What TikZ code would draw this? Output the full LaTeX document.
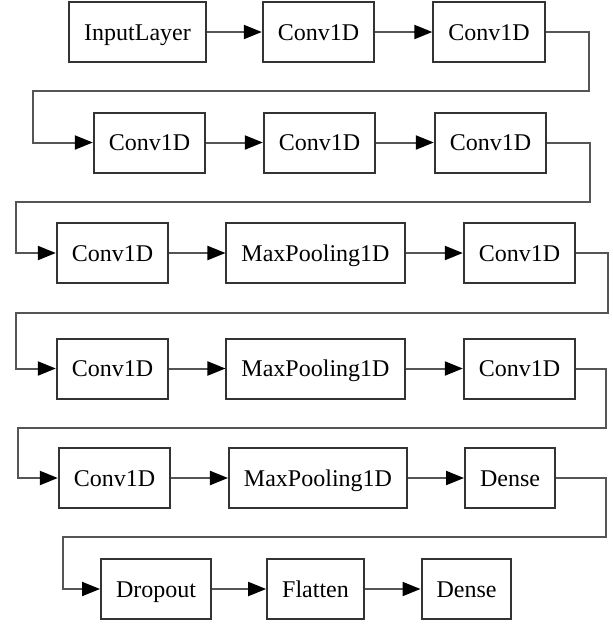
\documentclass[tikz,border=0pt]{standalone}
\usepackage{fontspec}
\setmainfont{Liberation Serif}
\usetikzlibrary{arrows.meta,positioning}
\definecolor{edgegray}{HTML}{555555}
\definecolor{boxgray}{HTML}{333333}

\begin{document}
\begin{tikzpicture}[
  x = 1pt, y = -1pt,
  every node/.style = {font=\fontsize{24}{28}\selectfont},
  layer/.style = {rectangle, draw=boxgray, line width=2pt,
                  inner xsep=15pt, inner ysep=0pt, minimum height=60pt,
                  text height=18pt, text depth=2pt},
  arr/.style   = {draw=edgegray, line width=2pt,
                  -{Triangle[length=18pt,width=14pt,black]}},
]
\useasboundingbox (0,0) rectangle (613,624);

% ── Row 1 ────────────────────────────────────────────────────
\node[layer] (inp)   at (137.5, 32)  {InputLayer};
\node[layer] (conv1) at (318.5, 32)  {Conv1D};
\node[layer] (conv2) at (489,   32)  {Conv1D};

% ── Row 2 ────────────────────────────────────────────────────
\node[layer] (conv3) at (149.5, 142.5) {Conv1D};
\node[layer] (conv4) at (319.5, 142.5) {Conv1D};
\node[layer] (conv5) at (490.5, 142.5) {Conv1D};

% ── Row 3 ────────────────────────────────────────────────────
\node[layer] (conv6) at (112.5, 253) {Conv1D};
\node[layer] (pool1) at (315.5, 253) {MaxPooling1D};
\node[layer] (conv7) at (519.5, 253) {Conv1D};

% ── Row 4 ────────────────────────────────────────────────────
\node[layer] (conv8) at (112.5, 368.5) {Conv1D};
\node[layer] (pool2) at (315.5, 368.5) {MaxPooling1D};
\node[layer] (conv9) at (519.5, 368.5) {Conv1D};

% ── Row 5 ────────────────────────────────────────────────────
\node[layer] (conv10) at (114.5, 478) {Conv1D};
\node[layer] (pool3)  at (318,   478) {MaxPooling1D};
\node[layer] (dense1) at (510,   478) {Dense};

% ── Row 6 ────────────────────────────────────────────────────
\node[layer] (drop)   at (156,   589) {Dropout};
\node[layer] (flat)   at (315.5, 589) {Flatten};
\node[layer] (dense2) at (466.5, 589) {Dense};

% ── Turn points between rows ─────────────────────────────────
\coordinate (turnR1) at (589, 91);   \coordinate (turnL1) at (33, 91);
\coordinate (turnR2) at (590, 202);  \coordinate (turnL2) at (16, 202);
\coordinate (turnR3) at (608, 313);  \coordinate (turnL3) at (16, 313);
\coordinate (turnR4) at (606, 428);  \coordinate (turnL4) at (18, 428);
\coordinate (turnR5) at (606, 537);  \coordinate (turnL5) at (63, 537);

% ── Arrows within rows ───────────────────────────────────────
\draw[arr] (inp)    -- (conv1);
\draw[arr] (conv1)  -- (conv2);
\draw[arr] (conv3)  -- (conv4);
\draw[arr] (conv4)  -- (conv5);
\draw[arr] (conv6)  -- (pool1);
\draw[arr] (pool1)  -- (conv7);
\draw[arr] (conv8)  -- (pool2);
\draw[arr] (pool2)  -- (conv9);
\draw[arr] (conv10) -- (pool3);
\draw[arr] (pool3)  -- (dense1);
\draw[arr] (drop)   -- (flat);
\draw[arr] (flat)   -- (dense2);

% ── Arrows wrapping to the next row ──────────────────────────
\draw[arr] (conv2.east)  -| (turnR1) -- (turnL1) |- (conv3.west);
\draw[arr] (conv5.east)  -| (turnR2) -- (turnL2) |- (conv6.west);
\draw[arr] (conv7.east)  -| (turnR3) -- (turnL3) |- (conv8.west);
\draw[arr] (conv9.east)  -| (turnR4) -- (turnL4) |- (conv10.west);
\draw[arr] (dense1.east) -| (turnR5) -- (turnL5) |- (drop.west);

\end{tikzpicture}
\end{document}
